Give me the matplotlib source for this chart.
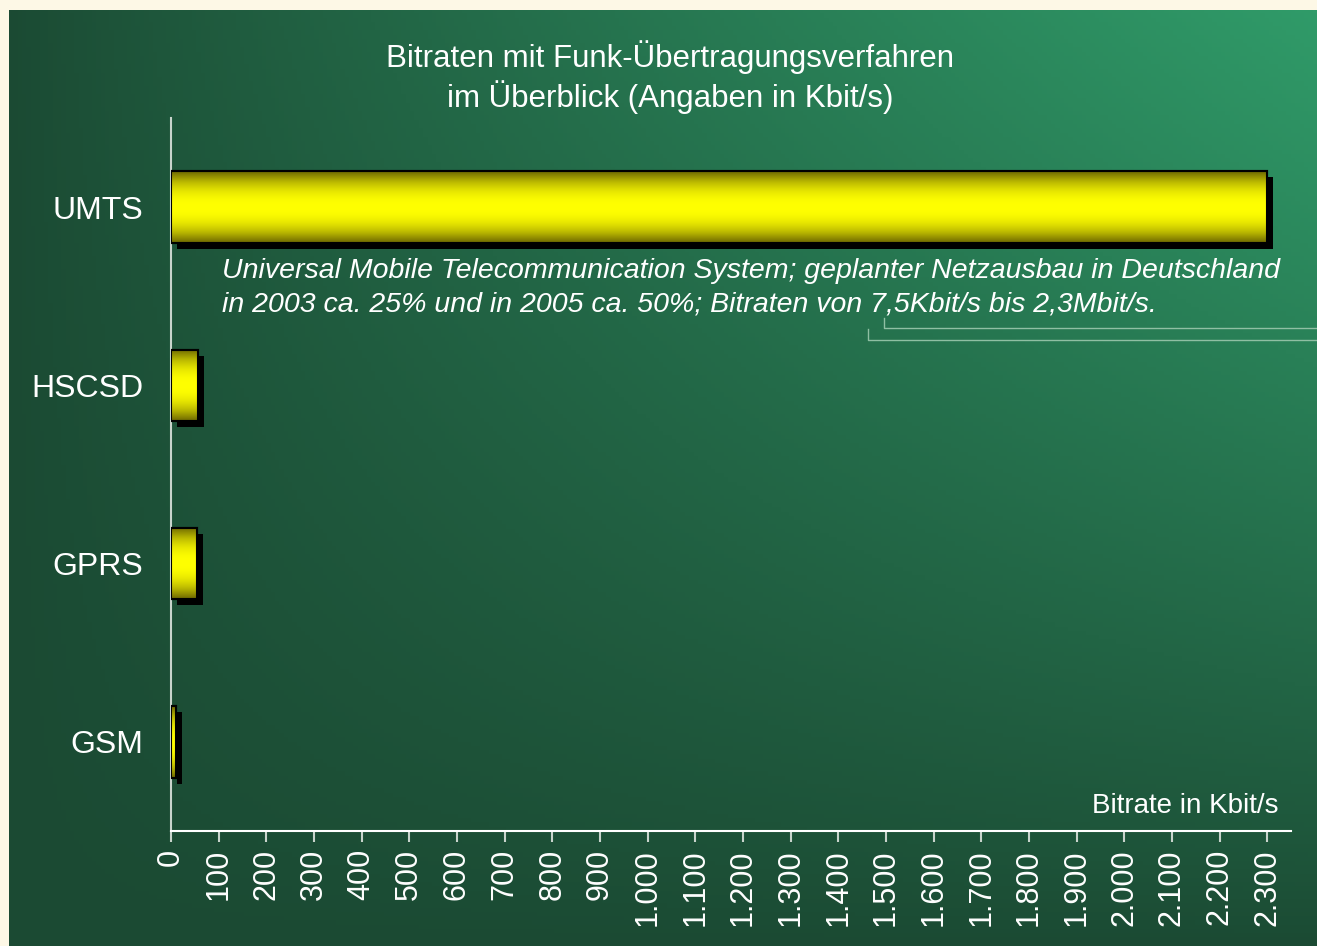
import numpy as np
import matplotlib.pyplot as plt
from matplotlib.lines import Line2D
from matplotlib.ticker import FuncFormatter
import matplotlib.transforms as mtransforms

plt.rcParams['font.family'] = ['Liberation Sans', 'DejaVu Sans']

# Data
systems = ["GSM", "GPRS", "HSCSD", "UMTS"]
bitrates = [9.6, 53.6, 57.6, 2300]
x_ticks = list(range(0, 2301, 100))

title = "Bitraten mit Funk-Übertragungsverfahren\nim Überblick (Angaben in Kbit/s)"
note = ("Universal Mobile Telecommunication System; geplanter Netzausbau in Deutschland\n"
        "in 2003 ca. 25% und in 2005 ca. 50%; Bitraten von 7,5Kbit/s bis 2,3Mbit/s.")

W, H = 1317, 946
fig = plt.figure(figsize=(W / 100, H / 100), dpi=100)
fig.patch.set_facecolor("#fdf8e6")

# green gradient background
bg = fig.add_axes([9 / W, 0, 1 - 9 / W, 1 - 10 / H])
bg.set_axis_off()
xx, yy = np.meshgrid(np.linspace(0, 1, 300), np.linspace(0, 1, 220))
t = np.clip(xx * (1 - yy), 0, 1) ** 0.85
dark = np.array([27, 74, 51]) / 255
light = np.array([48, 155, 105]) / 255
img = dark[None, None, :] * (1 - t[..., None]) + light[None, None, :] * t[..., None]
bg.imshow(img, aspect="auto", extent=[0, 1, 0, 1], origin="upper")
bg.set_xlim(0, 1)
bg.set_ylim(0, 1)

ax = fig.add_axes([171 / W, 1 - 831 / H, (1291 - 171) / W, (831 - 118) / H])
ax.patch.set_alpha(0)

ypos = np.arange(len(systems))
bar_h = 0.4

# shadows
shadow_tr = ax.transData + mtransforms.ScaledTranslation(6 / 100, -6 / 100, fig.dpi_scale_trans)
ax.barh(ypos, bitrates, height=bar_h, color="black", transform=shadow_tr, zorder=2)

# bars with vertical yellow gradient
n = 64
grad = np.abs(np.linspace(-1, 1, n)) ** 2.2
top = np.array([1.0, 1.0, 0.0])
edge = np.array([0.42, 0.40, 0.0])
cyl = np.zeros((n, 2, 3))
for i in range(n):
    cyl[i, :, :] = top * (1 - grad[i]) + edge * grad[i]

bars = ax.barh(ypos, bitrates, height=bar_h, color="yellow", edgecolor="black",
               linewidth=1.5, zorder=3)
for b in bars:
    x0, y0 = b.get_x(), b.get_y()
    im = ax.imshow(cyl, aspect="auto", extent=[x0, x0 + b.get_width(), y0, y0 + b.get_height()],
                   zorder=3.5)
    im.set_clip_path(b)
    ax.add_patch(plt.Rectangle((x0, y0), b.get_width(), b.get_height(), fill=False,
                               edgecolor="black", linewidth=1.5, zorder=4))

ax.set_xlim(0, 2350)
ax.set_ylim(-0.5, len(systems) - 0.5)
ax.set_yticks(ypos)
ax.set_yticklabels(systems, color="white", fontsize=23)
ax.tick_params(axis="y", length=0, pad=20)
ax.set_xticks(x_ticks)
ax.xaxis.set_major_formatter(FuncFormatter(lambda v, p: f"{int(v):,}".replace(",", ".")))
ax.tick_params(axis="x", colors="#c8d4cc", length=8, width=1.5, labelcolor="white",
               labelsize=22, labelrotation=90, pad=5)
for s in ["top", "right"]:
    ax.spines[s].set_visible(False)
ax.spines["left"].set_color("#c8d4cc")
ax.spines["left"].set_linewidth(1.5)
ax.spines["bottom"].set_color("white")
ax.spines["bottom"].set_linewidth(1.5)

fig.text(670 / W, 1 - 77 / H, title, ha="center", va="center", color="white",
         fontsize=22.5, linespacing=1.2)
fig.text(222 / W, 1 - 288 / H, note, ha="left", va="center", color="white",
         fontsize=20.5, style="italic", linespacing=1.36)
fig.text(1278 / W, 1 - 806 / H, "Bitrate in Kbit/s", ha="right", va="center",
         color="white", fontsize=20)

# callout lines
lc = "#8fbfa3"
for xs, ys in [((884, 884, W), (318, 328, 328)), ((868, 868, W), (329, 340, 340))]:
    fig.add_artist(Line2D([x / W for x in xs], [1 - y / H for y in ys],
                          transform=fig.transFigure, color=lc, linewidth=1))

fig.savefig("out.png", dpi=100, facecolor=fig.get_facecolor())
